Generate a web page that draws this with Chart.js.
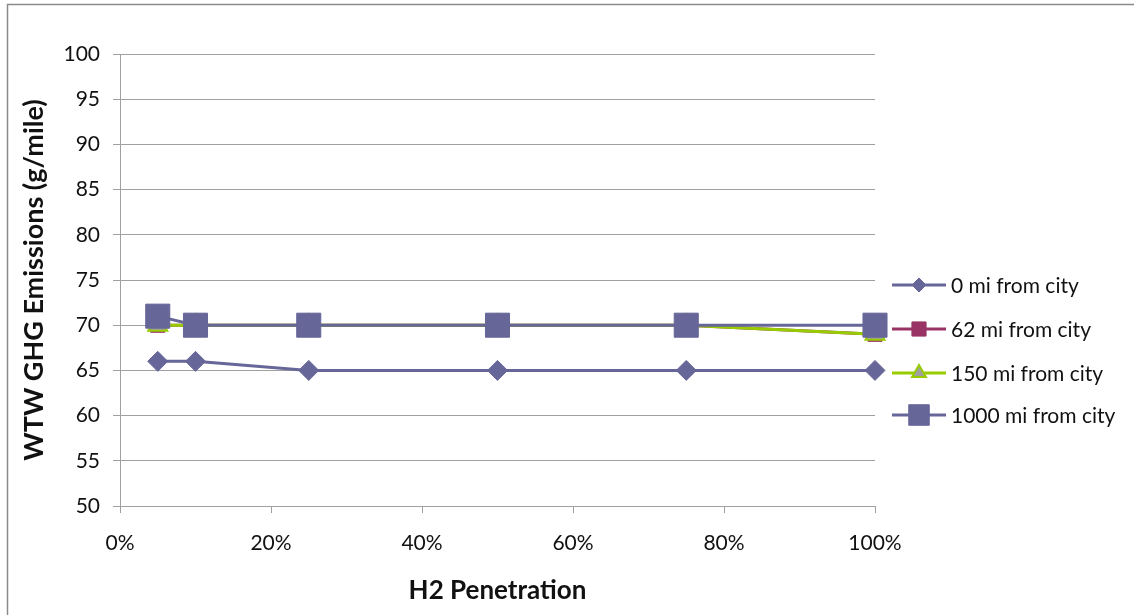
<!DOCTYPE html>
<html>
<head>
<meta charset="utf-8">
<title>WTW GHG Emissions vs H2 Penetration</title>
<script src="https://cdn.jsdelivr.net/npm/chart.js@4.4.1/dist/chart.umd.min.js"></script>
<style>
  html,body{margin:0;padding:0;background:#fff}
  #wrap{width:1134px;height:615px;position:relative}
</style>
</head>
<body>
<div id="wrap"><canvas id="c" width="1134" height="615"></canvas></div>
<script>
// ---- data ----
const penetration=[0.05,0.10,0.25,0.50,0.75,1.00];
const seriesNames=['0 mi from city','62 mi from city','150 mi from city','1000 mi from city'];
const mi0=[66,66,65,65,65,65];
const mi62=[70,70,70,70,70,69];
const mi150=[70,70,70,70,70,69];
const mi1000=[71,70,70,70,70,70];
const yMin=50, yMax=100, yStep=5;
const xMin=0, xMax=1, xStep=0.2;

const pts=vals=>vals.map((v,i)=>({x:penetration[i],y:v}));
const FONT='Lato, "Open Sans", sans-serif';
const GRID='#a0a0a0', INK='#111';

// border round the whole chart, like the Excel chart frame
const frame={id:'frame',beforeDraw(ch){
  const c=ch.ctx; c.save(); c.strokeStyle='#8a8a8a'; c.lineWidth=1.5;
  c.strokeRect(7.5,4.5,1300,800); c.restore();
}};

// legend drawn by hand: Excel puts it right of the plot, below the middle
const sideLegend={id:'sideLegend',afterDraw(ch){
  const c=ch.ctx, ys=[285,329,373,415], rad=[7,10,8,14.5];
  ch.data.datasets.forEach((ds,i)=>{
    const y=ys[i];
    c.save();
    c.strokeStyle=ds.borderColor; c.lineWidth=3;
    c.beginPath(); c.moveTo(892,y); c.lineTo(946,y); c.stroke();
    c.fillStyle=ds.pointBackgroundColor; c.strokeStyle=ds.pointBorderColor;
    c.lineWidth=ds.pointBorderWidth;
    Chart.helpers.drawPoint(c,{pointStyle:ds.pointStyle,radius:rad[i],borderWidth:ds.pointBorderWidth,rotation:0},919,y);
    c.fillStyle=INK; c.font='21px '+FONT; c.textBaseline='middle'; c.textAlign='left';
    c.fillText(seriesNames[i],951,y+1);
    c.restore();
  });
}};

new Chart(document.getElementById('c'),{
  type:'line',
  data:{datasets:[
    {label:seriesNames[0],data:pts(mi0),borderColor:'#666699',pointStyle:'rectRot',pointRadius:10,
     pointBackgroundColor:'#666699',pointBorderColor:'#666699',pointBorderWidth:1,order:4},
    {label:seriesNames[1],data:pts(mi62),borderColor:'#993366',pointStyle:'rect',pointRadius:10,
     pointBackgroundColor:'#993366',pointBorderColor:'#993366',pointBorderWidth:1,order:3},
    {label:seriesNames[2],data:pts(mi150),borderColor:'#99cc00',pointStyle:'triangle',pointRadius:11,
     pointBackgroundColor:'#a0a0a0',pointBorderColor:'#99cc00',pointBorderWidth:2,order:2},
    {label:seriesNames[3],data:pts(mi1000),borderColor:'#666699',pointStyle:'rect',pointRadius:17,
     pointBackgroundColor:'#666699',pointBorderColor:'#666699',pointBorderWidth:1,order:1}
  ].map(d=>Object.assign(d,{borderWidth:3,tension:0,fill:false,clip:false,pointHoverRadius:d.pointRadius}))},
  options:{
    responsive:false,animation:false,
    layout:{padding:{left:0,top:54,right:259,bottom:0}},
    plugins:{legend:{display:false},tooltip:{enabled:false},title:{display:false}},
    scales:{
      x:{type:'linear',min:xMin,max:xMax,
        afterFit:s=>{s.height=109;},
        grid:{drawOnChartArea:false,drawTicks:true,tickLength:7,color:GRID},
        border:{display:true,color:GRID},
        ticks:{stepSize:xStep,padding:18,color:INK,font:{family:FONT,size:21},
          callback:v=>Math.round(v*100)+'%'},
        title:{display:true,text:'H2 Penetration',color:INK,font:{family:FONT,size:26,weight:'bold'},padding:{top:0,bottom:9}}
      },
      y:{min:yMin,max:yMax,
        afterFit:s=>{s.width=120;},
        grid:{drawTicks:true,tickLength:7,color:GRID},
        border:{display:true,color:GRID},
        ticks:{stepSize:yStep,padding:13,color:INK,font:{family:FONT,size:21}},
        title:{display:true,text:'WTW GHG Emissions (g/mile)',color:INK,font:{family:FONT,size:27,weight:'bold'},padding:{top:18,bottom:0}}
      }
    }
  },
  plugins:[frame,sideLegend]
});
</script>
</body>
</html>
